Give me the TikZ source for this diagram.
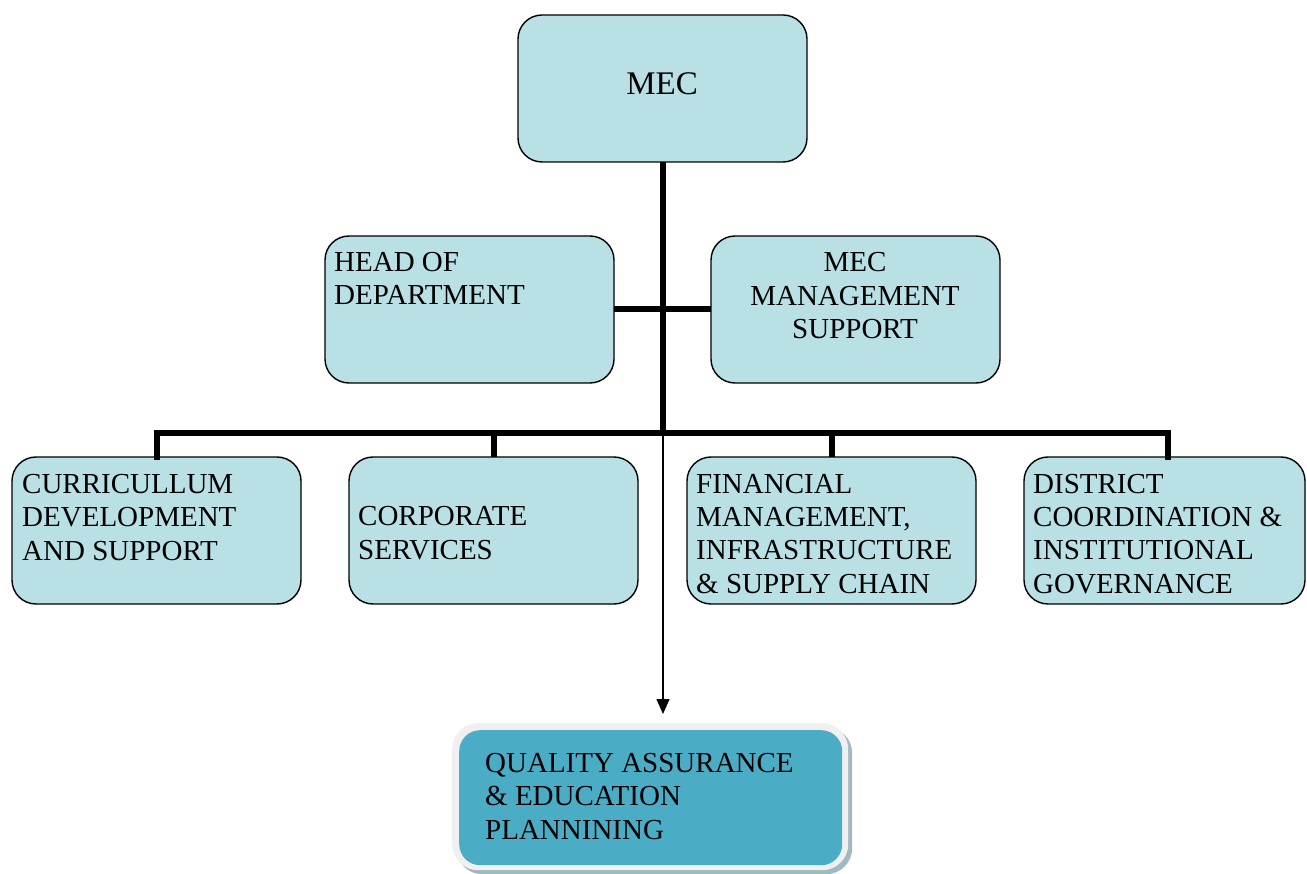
\documentclass[tikz,border=0pt]{standalone}
\usepackage{fontspec}
\setmainfont{Liberation Serif}
\usetikzlibrary{arrows.meta}
\definecolor{boxblue}{RGB}{185,224,228}
\definecolor{qablue}{RGB}{75,172,198}
\definecolor{qarim}{RGB}{240,240,240}
\definecolor{qashadow}{RGB}{160,185,195}
\tikzset{
  orgbox/.style={draw=black, line width=1.4pt, fill=boxblue, rounded corners=24pt,
    minimum width=289pt, minimum height=147pt, anchor=north west, inner sep=0pt, outer sep=0pt},
  lbl/.style={font=\fontsize{29}{33.3}\selectfont, align=left, anchor=base west, inner sep=0pt},
  clbl/.style={font=\fontsize{29}{33.5}\selectfont, align=center, anchor=base, inner sep=0pt},
  busline/.style={line width=6pt, line join=miter, line cap=rect},
  thinarrow/.style={line width=1.4pt, -{Triangle[length=15pt,width=13pt]}}
}
\begin{document}
\begin{tikzpicture}[x=1pt,y=-1pt]
\useasboundingbox (0,0) rectangle (1307,874);
% boxes
\node[orgbox] (mec) at (518,15) {};
\node[orgbox] (hod) at (325,236) {};
\node[orgbox] (ms) at (711,236) {};
\node[orgbox] (d1) at (12,457) {};
\node[orgbox] (d2) at (349,457) {};
\node[orgbox] (d3) at (687,457) {};
\node[orgbox, minimum width=281pt] (d4) at (1024,457) {};
% QA box
\node[fill=qashadow, rounded corners=26pt, minimum width=396pt, minimum height=147pt,
  anchor=north west, inner sep=0pt] (qashad) at (456,727) {};
\node[fill=qarim, rounded corners=26pt, minimum width=396pt, minimum height=147pt,
  anchor=north west, inner sep=0pt] (qa) at (452,723) {};
\node[fill=qablue, rounded corners=21pt, minimum width=383pt, minimum height=135pt,
  anchor=north west, inner sep=0pt] (qain) at (459,730) {};
% labels (base anchor = baseline of last line)
\node[font=\fontsize{33}{38}\selectfont, anchor=base, inner sep=0pt] (mect) at (662,95) {MEC};
\node[lbl] (hodt) at (334,305) {HEAD OF\\DEPARTMENT};
\node[clbl] (mst) at (855,339) {MEC\\MANAGEMENT\\SUPPORT};
\node[lbl] (d1t) at (22,560) {CURRICULLUM\\DEVELOPMENT\\AND SUPPORT};
\node[lbl] (d2t) at (358,559) {CORPORATE\\SERVICES};
\node[lbl] (d3t) at (696,593) {FINANCIAL\\MANAGEMENT,\\INFRASTRUCTURE\\\& SUPPLY CHAIN};
\node[lbl] (d4t) at (1033,593) {DISTRICT\\COORDINATION \&\\INSTITUTIONAL\\GOVERNANCE};
\node[lbl] (qat) at (485,839) {QUALITY ASSURANCE\\\& EDUCATION\\PLANNINING};
% connectors
\coordinate (j) at (663,433);
\coordinate (d4drop) at (1168,433);
\coordinate (tip) at (663,714);
\draw[line width=6pt] (mec.south -| j) -- (j);
\draw[line width=6pt] (hod.east) -- (ms.west);
\draw[busline] (d1.north) |- (j) -- (d4drop) -- (d4drop |- d4.north);
\draw[line width=6pt] (d2.north |- j) -- (d2.north);
\draw[line width=6pt] (d3.north |- j) -- (d3.north);
\draw[thinarrow] (j) -- (tip);
\end{tikzpicture}
\end{document}
